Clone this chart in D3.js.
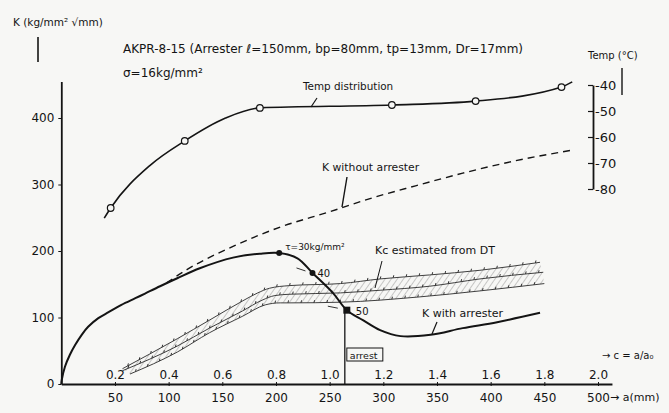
<!DOCTYPE html>
<html><head><meta charset="utf-8">
<script src="https://cdn.jsdelivr.net/npm/d3@7"></script>
<style>
html,body{margin:0;padding:0;background:#f7f7f5;}
svg{display:block;font-family:"DejaVu Sans",sans-serif;}
</style></head><body>
<svg id="chart" width="669" height="413"></svg>
<script>
// ---------- data ----------
const aTicks = [50,100,150,200,250,300,350,400,450,500];
const aTickLabels = ["50","100","150","200","250","300","350","400","450","500"];
const cTickLabels = ["0.2","0.4","0.6","0.8","1.0","1.2","1.4","1.6","1.8","2.0"];
const kTicks = [0,100,200,300,400];
const kTickLabels = ["0","100","200","300","400"];
const tempTicks = [-40,-50,-60,-70,-80];
const tempTickLabels = ["-40","-50","-60","-70","-80"];

// Temperature distribution (measured points, open circles)
const tempPointA = [46,115,185,308,386,466];
const tempPointT = [-87.3,-61.5,-48.8,-47.7,-46.2,-40.8];
// faired temperature curve
const tempCurveA = [40,46,83,115,153,185,308,386,466,476];
const tempCurveT = [-91.2,-87.3,-70.8,-61.5,-52.7,-48.8,-47.7,-46.2,-40.8,-38.8];

// K with arrester
const kArrA = [0,0.4,3.4,8,13,19,25,34.5,44,56,69,78,92,108,129,160,185,203,220,234,253,266,281,297,316,344,374,406,446];
const kArrK = [0,6,26,44,59,74,86,99,108,119,129,136,147,159,174,190,196,197,189,167,137,111,96,81,72,74,84,93,107];

// K without arrester (dashed)
const kNoA = [98,117,160,204,250,290,330,374,421,477];
const kNoK = [152,172,207,236,259,280,298,317,335,352];

// Kc estimated from DT (band)
const bandUpperA = [57,108,138,169,183,194,213,260,297,343,390,446];
const bandUpperK = [23,68,96,125,137,144,148,151,158,164,171,183];
const bandMidA = [57,108,138,169,187,199,213,260,297,343,390,449];
const bandMidK = [20,57,84,110,126,133,135,137,141,147,158,168];
const bandLowerA = [64,108,138,169,190,204,213,260,334,390,450];
const bandLowerK = [15,48,77,102,119,122,122,123,131,140,151];

// markers on K with arrester curve (tau values)
const markA = [203,234,266];
const markK = [197,167,111];
const markLabels = ["τ=30kg/mm²","40","50"];

// ---------- drawing ----------
const W = 669, H = 413;
const svg = d3.select("#chart");
svg.append("rect").attr("width",W).attr("height",H).attr("fill","#f7f7f5");

const x = d3.scaleLinear().domain([0,500]).range([61.3,598]);
const yK = d3.scaleLinear().domain([0,400]).range([384,118]);
const yT = d3.scaleLinear().domain([-40,-80]).range([85,189]);
const ink = "#141414";

// hatch pattern
const defs = svg.append("defs");
const pat = defs.append("pattern").attr("id","hatch")
  .attr("patternUnits","userSpaceOnUse").attr("width",5).attr("height",10)
  .attr("patternTransform","rotate(35)");
pat.append("line").attr("x1",0).attr("y1",0).attr("x2",0).attr("y2",10)
  .attr("stroke","#6a6a6a").attr("stroke-width",0.7);

// axes
const yKaxisScale = yK.copy().domain([0,455]).range([yK(0),yK(455)]);
const gL = svg.append("g").attr("transform",`translate(${x(0)},0)`)
  .call(d3.axisLeft(yKaxisScale).tickValues(kTicks).tickFormat((d,i)=>kTickLabels[i])
    .tickSizeInner(3).tickSizeOuter(0).tickPadding(4));
gL.select(".domain").attr("stroke",ink).attr("stroke-width",1.8);
gL.selectAll(".tick line").attr("stroke",ink);
gL.selectAll("text").attr("font-size",12).attr("fill",ink).attr("font-family","DejaVu Sans");

const xAxisScale = x.copy().domain([0,513]).range([x(0),x(513)]);
const gB = svg.append("g").attr("transform",`translate(0,${yK(0)})`)
  .call(d3.axisBottom(xAxisScale).tickValues(aTicks).tickFormat((d,i)=>aTickLabels[i])
    .tickSizeInner(2).tickSizeOuter(0).tickPadding(7));
gB.select(".domain").attr("stroke",ink).attr("stroke-width",1.8);
gB.selectAll(".tick line").attr("stroke",ink).attr("y1",-2);
gB.selectAll("text").attr("font-size",12).attr("fill",ink).attr("font-family","DejaVu Sans");

const gT = svg.append("g").attr("transform",`translate(0,${yK(0)})`)
  .call(d3.axisTop(x).tickValues(aTicks).tickFormat((d,i)=>cTickLabels[i])
    .tickSize(0).tickPadding(5));
gT.select(".domain").remove();
gT.selectAll("text").attr("font-size",12).attr("fill",ink).attr("font-family","DejaVu Sans");

const gR = svg.append("g").attr("transform","translate(593,0)")
  .call(d3.axisRight(yT).tickValues(tempTicks).tickFormat((d,i)=>tempTickLabels[i])
    .tickSizeInner(-5).tickSizeOuter(0).tickPadding(2));
gR.select(".domain").attr("stroke",ink).attr("stroke-width",1.8);
gR.selectAll(".tick line").attr("stroke",ink).attr("stroke-width",1.2);
gR.selectAll("text").attr("font-size",13).attr("fill",ink).attr("font-family","DejaVu Sans");

// axis titles / header text
const txt = (t,xx,yy,fs)=>svg.append("text").attr("x",xx).attr("y",yy)
  .attr("font-size",fs).attr("fill",ink).text(t);
txt("K (kg/mm² √mm)",13,26,10.5);
svg.append("line").attr("x1",38).attr("y1",37).attr("x2",38).attr("y2",62).attr("stroke",ink).attr("stroke-width",1.6);
txt("AKPR-8-15 (Arrester ℓ=150mm, bp=80mm, tp=13mm, Dr=17mm)",123,53,12);
txt("σ=16kg/mm²",123,77,12);
txt("Temp (°C)",588,59,10);
svg.append("line").attr("x1",622).attr("y1",68).attr("x2",622).attr("y2",95).attr("stroke",ink).attr("stroke-width",1.4);
txt("→ c = a/a₀",602,359,10);
txt("→ a(mm)",610,401,11);

const lineMono = d3.line().x(d=>x(d[0])).y(d=>yK(d[1])).curve(d3.curveMonotoneX);
const lineSmooth = d3.line().x(d=>x(d[0])).y(d=>yK(d[1])).curve(d3.curveCatmullRom.alpha(0.5));

// band (hatched)
const up = d3.zip(bandUpperA,bandUpperK);
const lo = d3.zip(bandLowerA,bandLowerK);
const mid = d3.zip(bandMidA,bandMidK);
const bandPath = lineMono(up) + "L" + lineMono(lo.slice().reverse()).slice(1) + "Z";
svg.append("path").attr("d",bandPath).attr("fill","url(#hatch)").attr("stroke","none");
const bandLines = [up,mid,lo].map(pts=>
  svg.append("path").attr("d",lineMono(pts)).attr("fill","none").attr("stroke","#2a2a2a").attr("stroke-width",0.9));
// small tick marks along band lines
bandLines.forEach(p=>{
  const node = p.node(), L = node.getTotalLength();
  for(let s=6; s<L; s+=13){
    const pt = node.getPointAtLength(s);
    svg.append("line").attr("x1",pt.x).attr("y1",pt.y).attr("x2",pt.x+0.6).attr("y2",pt.y-2.5)
      .attr("stroke","#333").attr("stroke-width",1);
  }
});

// K without arrester (dashed)
svg.append("path").attr("d",lineMono(d3.zip(kNoA,kNoK))).attr("fill","none")
  .attr("stroke",ink).attr("stroke-width",1.4).attr("stroke-dasharray","7,5");

// K with arrester
svg.append("path").attr("d",lineSmooth(d3.zip(kArrA,kArrK))).attr("fill","none")
  .attr("stroke",ink).attr("stroke-width",2);

// temp distribution
const lineT = d3.line().x(d=>x(d[0])).y(d=>yT(d[1])).curve(d3.curveMonotoneX);
svg.append("path").attr("d",lineT(d3.zip(tempCurveA,tempCurveT))).attr("fill","none")
  .attr("stroke",ink).attr("stroke-width",1.6);
svg.selectAll(".tcirc").data(d3.zip(tempPointA,tempPointT)).enter().append("circle")
  .attr("cx",d=>x(d[0])).attr("cy",d=>yT(d[1])).attr("r",3.3)
  .attr("fill","#f7f7f5").attr("stroke",ink).attr("stroke-width",1.2);

// arrest vertical line
svg.append("line").attr("x1",x(markA[2])-2).attr("x2",x(markA[2])-2)
  .attr("y1",yK(markK[2])).attr("y2",yK(0)).attr("stroke",ink).attr("stroke-width",1.3);
svg.append("rect").attr("x",x(markA[2])).attr("y",348).attr("width",36).attr("height",13)
  .attr("fill","none").attr("stroke",ink).attr("stroke-width",1);
txt("arrest",x(markA[2])+3,358.5,9.5);

// markers
markA.forEach((a,i)=>{
  if(i<2){
    svg.append("circle").attr("cx",x(a)).attr("cy",yK(markK[i])).attr("r",3).attr("fill",ink);
  } else {
    svg.append("rect").attr("x",x(a)-3.5).attr("y",yK(markK[i])-3.5).attr("width",7).attr("height",7).attr("fill",ink);
  }
});
txt(markLabels[0],x(markA[0])+6,250,9);
txt(markLabels[1],x(markA[1])+5,277,10);
txt(markLabels[2],x(markA[2])+9,315,10);
svg.append("line").attr("x1",x(markA[1])-16).attr("y1",yK(markK[1])-5).attr("x2",x(markA[1])-7).attr("y2",yK(markK[1])-2).attr("stroke","#333").attr("stroke-width",1);
svg.append("line").attr("x1",x(markA[2])-19).attr("y1",yK(markK[2])-4).attr("x2",x(markA[2])-9).attr("y2",yK(markK[2])-2).attr("stroke","#333").attr("stroke-width",1);

// curve labels with leaders
txt("Temp distribution",303,90,10.4);
svg.append("line").attr("x1",317).attr("y1",98).attr("x2",311).attr("y2",107).attr("stroke",ink).attr("stroke-width",1.2);
txt("K without arrester",322,171,10.8);
svg.append("line").attr("x1",347).attr("y1",177).attr("x2",342).attr("y2",207).attr("stroke",ink).attr("stroke-width",1.4);
txt("Kc estimated from DT",375,254,11);
svg.append("line").attr("x1",382).attr("y1",261).attr("x2",375).attr("y2",288).attr("stroke",ink).attr("stroke-width",1);
txt("K with arrester",422,317,11);
svg.append("line").attr("x1",437).attr("y1",322).attr("x2",432).attr("y2",334).attr("stroke",ink).attr("stroke-width",1.2);
</script>
</body></html>
